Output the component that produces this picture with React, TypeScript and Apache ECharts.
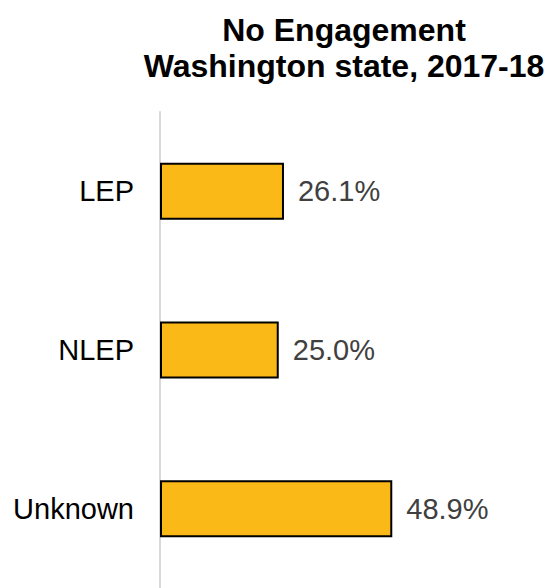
import React, { useEffect, useRef } from "react";
import * as echarts from "echarts";

const categories = ["LEP", "NLEP", "Unknown"];
const values = [26.1, 25.0, 48.9];
const titleLines = ["No Engagement", "Washington state, 2017-18"];

export default function App() {
  const ref = useRef<HTMLDivElement>(null);
  useEffect(() => {
    if (!ref.current) return;
    const chart = echarts.init(ref.current, undefined, { renderer: "svg" });
    chart.setOption({
      animation: false,
      backgroundColor: "#ffffff",
      title: {
        text: titleLines.join("\n"),
        left: 339,
        top: 7,
        textAlign: "center",
        textStyle: {
          fontFamily: "Liberation Sans",
          fontSize: 32,
          fontWeight: "bold",
          color: "#000000",
          lineHeight: 36,
        },
      },
      grid: { left: 160, right: 12, top: 112, height: 480, containLabel: false },
      xAxis: {
        type: "value",
        min: 0,
        max: 80,
        show: false,
      },
      yAxis: {
        type: "category",
        data: categories,
        inverse: true,
        axisLine: { show: true, lineStyle: { color: "#d9d9d9", width: 2 } },
        axisTick: { show: false },
        axisLabel: {
          margin: 26,
          fontFamily: "Liberation Sans",
          fontSize: 29,
          color: "#000000",
        },
      },
      series: [
        {
          type: "bar",
          data: values,
          barWidth: 57,
          itemStyle: { color: "#FBB917", borderColor: "#000000", borderWidth: 2 },
          label: {
            show: true,
            position: "right",
            distance: 14,
            formatter: (p: any) => p.value.toFixed(1) + "%",
            fontFamily: "Liberation Sans",
            fontSize: 29,
            color: "#404040",
          },
        },
      ],
    });
    return () => chart.dispose();
  }, []);
  return (
    <div
      ref={ref}
      style={{ position: "absolute", left: 0, top: 0, width: 552, height: 588 }}
    />
  );
}
